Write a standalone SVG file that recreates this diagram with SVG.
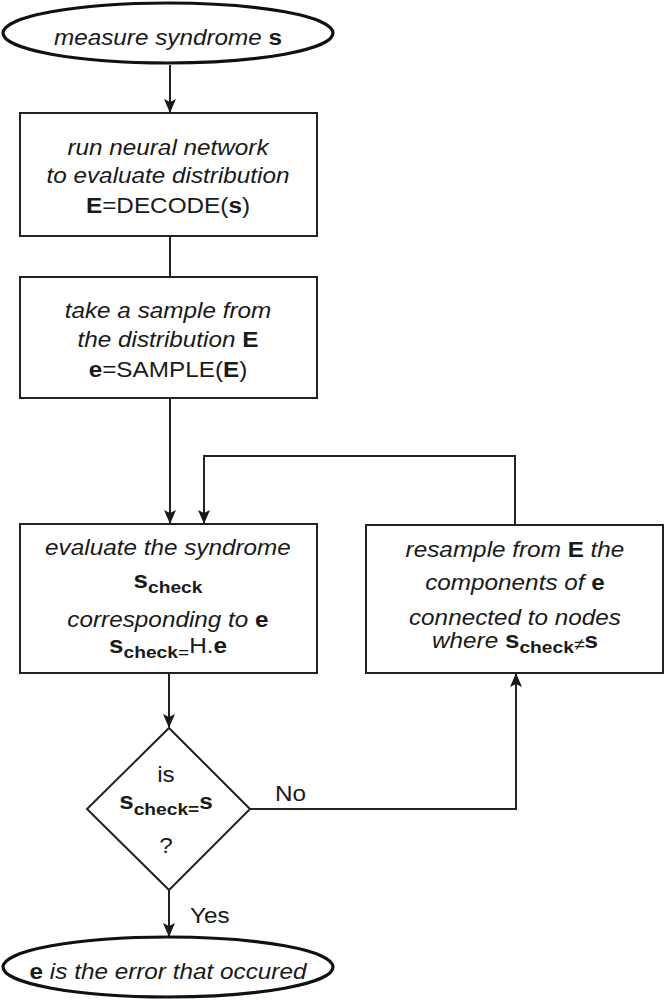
<svg xmlns="http://www.w3.org/2000/svg" width="666" height="1003" viewBox="0 0 666 1003">
<style>
.box{fill:#fff;stroke:#222;stroke-width:2}
.term{fill:#fff;stroke:#111;stroke-width:3.2}
.ln{fill:none;stroke:#222;stroke-width:2}
text{font-family:"Liberation Sans",Arial,sans-serif;font-size:21.5px;fill:#1a1a1a;text-anchor:middle}
.i{font-style:italic}
.b{font-weight:bold}
.sub{font-size:17px}
.bs{font-weight:bold;font-size:23px}
</style>
<defs>
<marker id="ah" markerWidth="14" markerHeight="14" refX="13" refY="7" orient="auto" markerUnits="userSpaceOnUse">
<path d="M0,1 L14,7 L0,13 L3,7 Z" fill="#1a1a1a"/>
</marker>
</defs>
<g id="connectors">
<line class="ln" x1="170" y1="65" x2="170" y2="112" marker-end="url(#ah)"/>
<line class="ln" x1="170" y1="236" x2="170" y2="277"/>
<line class="ln" x1="170" y1="398" x2="170" y2="523" marker-end="url(#ah)"/>
<polyline class="ln" points="515,525 515,456 204,456 204,523" marker-end="url(#ah)"/>
<line class="ln" x1="169" y1="673" x2="169" y2="727" marker-end="url(#ah)"/>
<polyline class="ln" points="250,809 516,809 516,674" marker-end="url(#ah)"/>
<line class="ln" x1="169" y1="890" x2="169" y2="936" marker-end="url(#ah)"/>
<g transform="translate(275,0) scale(1.13,1) translate(-275,0)"><text x="275" y="801" style="text-anchor:start">No</text></g>
<g transform="translate(190,0) scale(1.13,1) translate(-190,0)"><text x="190" y="923" style="text-anchor:start">Yes</text></g>
</g>
<g id="start">
<ellipse class="term" cx="168" cy="33" rx="165" ry="30"/>
<g transform="translate(168,0) scale(1.13,1) translate(-168,0)">
<text x="168" y="45"><tspan class="i">measure syndrome </tspan><tspan class="b">s</tspan></text>
</g>
</g>
<g id="decode">
<rect class="box" x="20" y="113" width="297" height="123"/>
<g transform="translate(168,0) scale(1.13,1) translate(-168,0)">
<text x="168" y="155" class="i">run neural network</text>
<text x="168" y="183" class="i">to evaluate distribution</text>
<text x="168" y="213"><tspan class="b">E</tspan>=DECODE(<tspan class="b">s</tspan>)</text>
</g>
</g>
<g id="sample">
<rect class="box" x="20" y="277" width="297" height="121"/>
<g transform="translate(168,0) scale(1.13,1) translate(-168,0)">
<text x="168" y="318" class="i">take a sample from</text>
<text x="168" y="347"><tspan class="i">the distribution </tspan><tspan class="b">E</tspan></text>
<text x="168" y="377"><tspan class="b">e</tspan>=SAMPLE(<tspan class="b">E</tspan>)</text>
</g>
</g>
<g id="evaluate">
<rect class="box" x="20" y="524" width="297" height="149"/>
<g transform="translate(168,0) scale(1.13,1) translate(-168,0)">
<text x="168" y="555" class="i">evaluate the syndrome</text>
<text x="168" y="588"><tspan class="bs">s</tspan><tspan dy="5" class="b sub">check</tspan></text>
<text x="168" y="627"><tspan class="i">corresponding to </tspan><tspan class="b">e</tspan></text>
<text x="168" y="653"><tspan class="bs">s</tspan><tspan class="b sub" dy="5">check</tspan><tspan class="sub">=</tspan><tspan dy="-5">H.</tspan><tspan class="b">e</tspan></text>
</g>
</g>
<g id="resample">
<rect class="box" x="366" y="525" width="297" height="148"/>
<g transform="translate(515,0) scale(1.13,1) translate(-515,0)">
<text x="515" y="557"><tspan class="i">resample from </tspan><tspan class="b">E</tspan><tspan class="i"> the</tspan></text>
<text x="515" y="590"><tspan class="i">components of  </tspan><tspan class="b">e</tspan></text>
<text x="515" y="625" class="i">connected to nodes</text>
<text x="515" y="648"><tspan class="i">where </tspan><tspan class="bs">s</tspan><tspan class="b sub" dy="5">check</tspan><tspan class="sub" dy="-3">≠</tspan><tspan class="b" dy="-2">s</tspan></text>
</g>
</g>
<g id="decision">
<polygon class="box" points="169,728 250,809 169,890 87,809"/>
<g transform="translate(166,0) scale(1.13,1) translate(-166,0)">
<text x="166" y="782">is</text>
<text x="166" y="809"><tspan class="bs">s</tspan><tspan class="b sub" dy="6">check=</tspan><tspan class="b" dy="-6">s</tspan></text>
<text x="166" y="853" font-size="16">?</text>
</g>
</g>
<g id="end">
<ellipse class="term" cx="168" cy="967" rx="165" ry="30"/>
<g transform="translate(168,0) scale(1.13,1) translate(-168,0)">
<text x="168" y="979"><tspan class="b">e</tspan><tspan class="i"> is the error that occured</tspan></text>
</g>
</g>
</svg>
